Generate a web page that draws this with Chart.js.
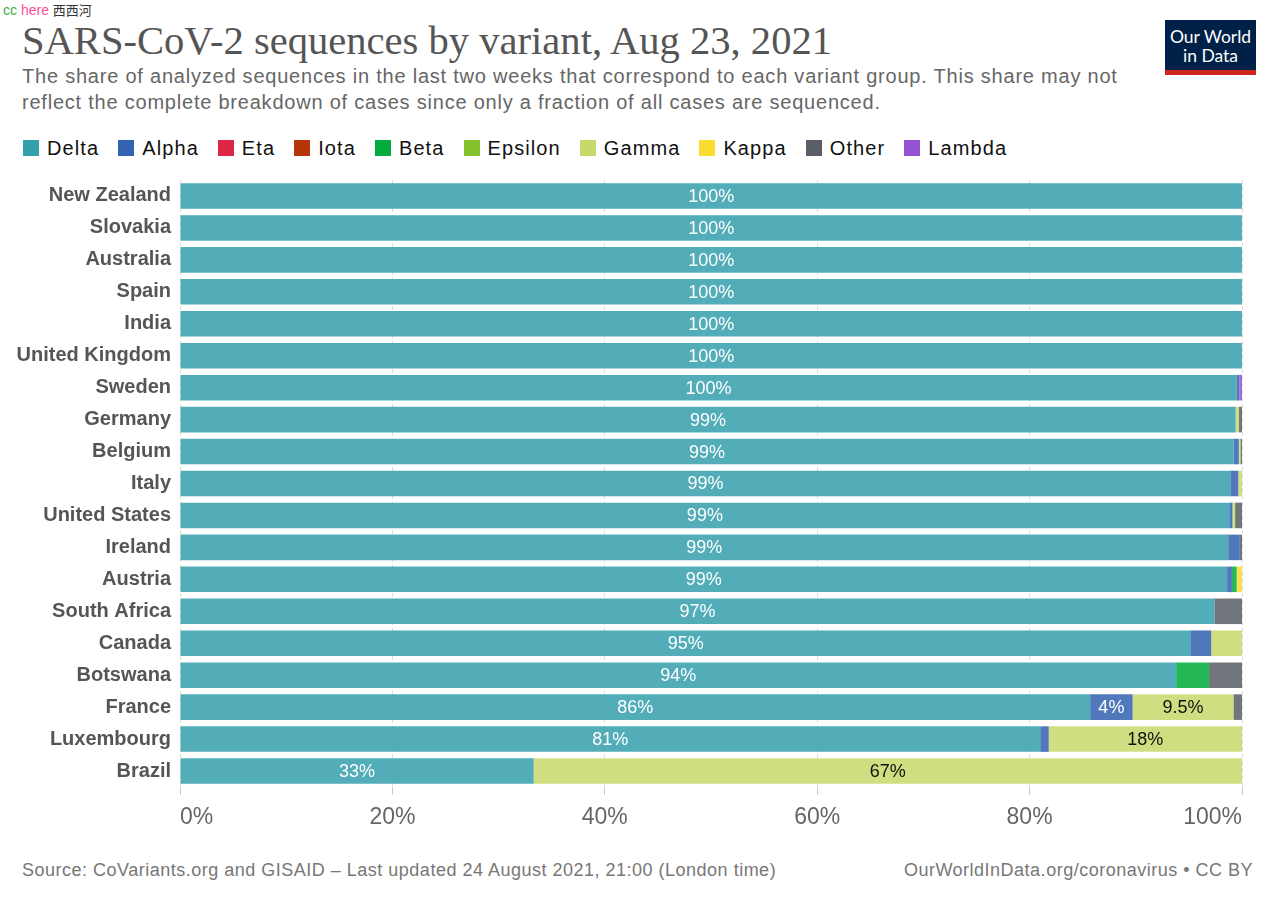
<!DOCTYPE html>
<html>
<head>
<meta charset="utf-8">
<style>
  body { margin: 0; width: 1280px; height: 903px; background: #fff; font-family: "Liberation Sans", Arial, sans-serif; position: relative; overflow: hidden; }
  .abs { position: absolute; }
  #mark { left: 3px; top: 1px; font-size: 14px; line-height: 18px; }
  #title { left: 22px; top: 21px; font-family: "Liberation Serif", "Times New Roman", serif; font-size: 40.6px; line-height: 40px; color: #555; white-space: nowrap; }
  #subtitle { left: 22px; top: 63px; font-size: 20px; letter-spacing: 0.78px; line-height: 26px; color: #666; white-space: nowrap; }
  #legend { left: 23px; top: 136px; height: 24px; display: flex; align-items: center; font-size: 20px; letter-spacing: 1.1px; color: #111; }
  #legend span.item { display: flex; align-items: center; margin-right: 19px; }
  #legend span.box { width: 16px; height: 16px; margin-right: 8px; display: inline-block; }
  #logo { left: 1165px; top: 20px; width: 91px; background: #002147; border-bottom: 5px solid #ce261e; color: #fff; font-family: Lato, "Liberation Sans", sans-serif; font-size: 17.5px; line-height: 19px; text-align: center; padding-top: 7px; height: 43px; }
  #footer-l { left: 22px; top: 859px; font-size: 18px; letter-spacing: 0.5px; line-height: 22px; color: #777; white-space: nowrap; }
  #footer-r { right: 27px; top: 859px; font-size: 18px; letter-spacing: 0.5px; line-height: 22px; color: #777; white-space: nowrap; }
  #chart { left: 0; top: 159px; }
</style>
</head>
<body>
<div id="mark" class="abs"><span style="color:#3fae49">cc</span> <span style="color:#ff4f9e">here</span> <span style="color:#333;font-family:'Noto Sans CJK SC';font-size:13px">西西河</span></div>
<div id="title" class="abs">SARS-CoV-2 sequences by variant, Aug 23, 2021</div>
<div id="subtitle" class="abs">The share of analyzed sequences in the last two weeks that correspond to each variant group. This share may not<br>reflect the complete breakdown of cases since only a fraction of all cases are sequenced.</div>
<div id="logo" class="abs">Our World<br>in Data</div>
<div id="legend" class="abs"></div>
<canvas id="chart" class="abs" width="1280" height="691"></canvas>
<div id="footer-l" class="abs">Source: CoVariants.org and GISAID – Last updated 24 August 2021, 21:00 (London time)</div>
<div id="footer-r" class="abs">OurWorldInData.org/coronavirus • CC BY</div>

<script src="https://cdn.jsdelivr.net/npm/chart.js"></script>
<script>
const countries = ['New Zealand', 'Slovakia', 'Australia', 'Spain', 'India', 'United Kingdom', 'Sweden', 'Germany', 'Belgium', 'Italy',
  'United States', 'Ireland', 'Austria', 'South Africa', 'Canada', 'Botswana', 'France', 'Luxembourg', 'Brazil'];

const variants = ['Delta', 'Alpha', 'Eta', 'Iota', 'Beta', 'Epsilon', 'Gamma', 'Kappa', 'Other', 'Lambda'];
const colors = ['#359fac', '#3362b0', '#db2743', '#b33509', '#00ac3b', '#84c22c', '#c8d96c', '#f9dc2f', '#5a5e66', '#9552d4'];

// share of sequences (%), one value per country in the order above
const delta   = [100, 100, 100, 100, 100, 100, 99.5, 99.4, 99.2, 98.9, 98.8, 98.7, 98.6, 97.4, 95.2, 93.8, 85.7, 81.0, 33.3];
const alpha   = [0, 0, 0, 0, 0, 0, 0.25, 0, 0.5, 0.75, 0.3, 1.1, 0.45, 0, 1.9, 0, 4.0, 0.8, 0];
const eta     = [0, 0, 0, 0, 0, 0, 0, 0, 0, 0, 0, 0, 0, 0, 0, 0, 0, 0, 0];
const iota    = [0, 0, 0, 0, 0, 0, 0, 0, 0, 0, 0, 0, 0, 0, 0, 0, 0, 0, 0];
const beta    = [0, 0, 0, 0, 0, 0, 0, 0, 0, 0, 0, 0, 0.45, 0, 0, 3.1, 0, 0, 0];
const epsilon = [0, 0, 0, 0, 0, 0, 0, 0, 0, 0, 0, 0, 0, 0, 0, 0, 0, 0, 0];
const gamma   = [0, 0, 0, 0, 0, 0, 0, 0.3, 0.15, 0.35, 0.25, 0, 0, 0, 2.9, 0, 9.5, 18.2, 66.7];
const kappa   = [0, 0, 0, 0, 0, 0, 0, 0, 0, 0, 0, 0, 0.5, 0, 0, 0, 0, 0, 0];
const other   = [0, 0, 0, 0, 0, 0, 0, 0.3, 0.15, 0, 0.65, 0.2, 0, 2.6, 0, 3.1, 0.8, 0, 0];
const lambda  = [0, 0, 0, 0, 0, 0, 0.25, 0, 0, 0, 0, 0, 0, 0, 0, 0, 0, 0, 0];

const xTicks = [0, 20, 40, 60, 80, 100];

const series = [delta, alpha, eta, iota, beta, epsilon, gamma, kappa, other, lambda];
const darkText = ['Gamma', 'Kappa', 'Epsilon'];

function fade(hex, a) {
  const n = parseInt(hex.slice(1), 16);
  return `rgba(${n >> 16}, ${(n >> 8) & 255}, ${n & 255}, ${a})`;
}

// html legend
const leg = document.getElementById('legend');
variants.forEach((v, i) => {
  const it = document.createElement('span');
  it.className = 'item';
  it.innerHTML = `<span class="box" style="background:${colors[i]}"></span>${v}`;
  leg.appendChild(it);
});

function fmt(v) {
  if (v >= 10) return Math.round(v) + '%';
  return (+v.toFixed(1)) + '%';
}

const barLabels = {
  id: 'barLabels',
  afterDatasetsDraw(chart) {
    const ctx = chart.ctx;
    ctx.save();
    ctx.font = '18px "Liberation Sans", Arial, sans-serif';
    ctx.textAlign = 'center';
    ctx.textBaseline = 'middle';
    chart.data.datasets.forEach((ds, di) => {
      chart.getDatasetMeta(di).data.forEach((bar, i) => {
        const v = ds.data[i];
        if (!v) return;
        const txt = fmt(v);
        const w = Math.abs(bar.x - bar.base);
        if (ctx.measureText(txt).width + 8 > w) return;
        ctx.fillStyle = darkText.includes(ds.label) ? '#111' : '#fff';
        ctx.fillText(txt, (bar.x + bar.base) / 2, bar.y + 1);
      });
    });
    ctx.restore();
  }
};

new Chart(document.getElementById('chart'), {
  type: 'bar',
  data: {
    labels: countries,
    datasets: variants.map((v, i) => ({
      label: v,
      data: series[i],
      backgroundColor: fade(colors[i], 0.86),
      borderWidth: 0,
      categoryPercentage: 1,
      barPercentage: 0.8
    }))
  },
  options: {
    indexAxis: 'y',
    responsive: false,
    animation: false,
    layout: { padding: { top: 9, right: 38, left: 0, bottom: 0 } },
    plugins: {
      legend: { display: false },
      tooltip: { enabled: false }
    },
    scales: {
      x: {
        stacked: true,
        min: 0,
        max: 100,
        afterBuildTicks(scale) { scale.ticks = xTicks.map(v => ({ value: v })); },
        afterFit(scale) { scale.height = 63; },
        ticks: {
          align: 'inner',
          padding: 9,
          color: '#666',
          font: { family: '"Liberation Sans", Arial, sans-serif', size: 23 },
          callback: v => v + '%'
        },
        grid: { color: '#dedede', tickColor: '#c8c8c8', tickLength: 8 },
        border: { display: false, dash: [4, 3] }
      },
      y: {
        stacked: true,
        afterFit(scale) { scale.width = 180; },
        ticks: {
          padding: 9,
          color: '#555',
          font: { family: '"Liberation Sans", Arial, sans-serif', size: 20, weight: 'bold' }
        },
        grid: { display: false, drawTicks: false, tickLength: 0 },
        border: { display: false }
      }
    }
  },
  plugins: [barLabels]
});
</script>
</body>
</html>
